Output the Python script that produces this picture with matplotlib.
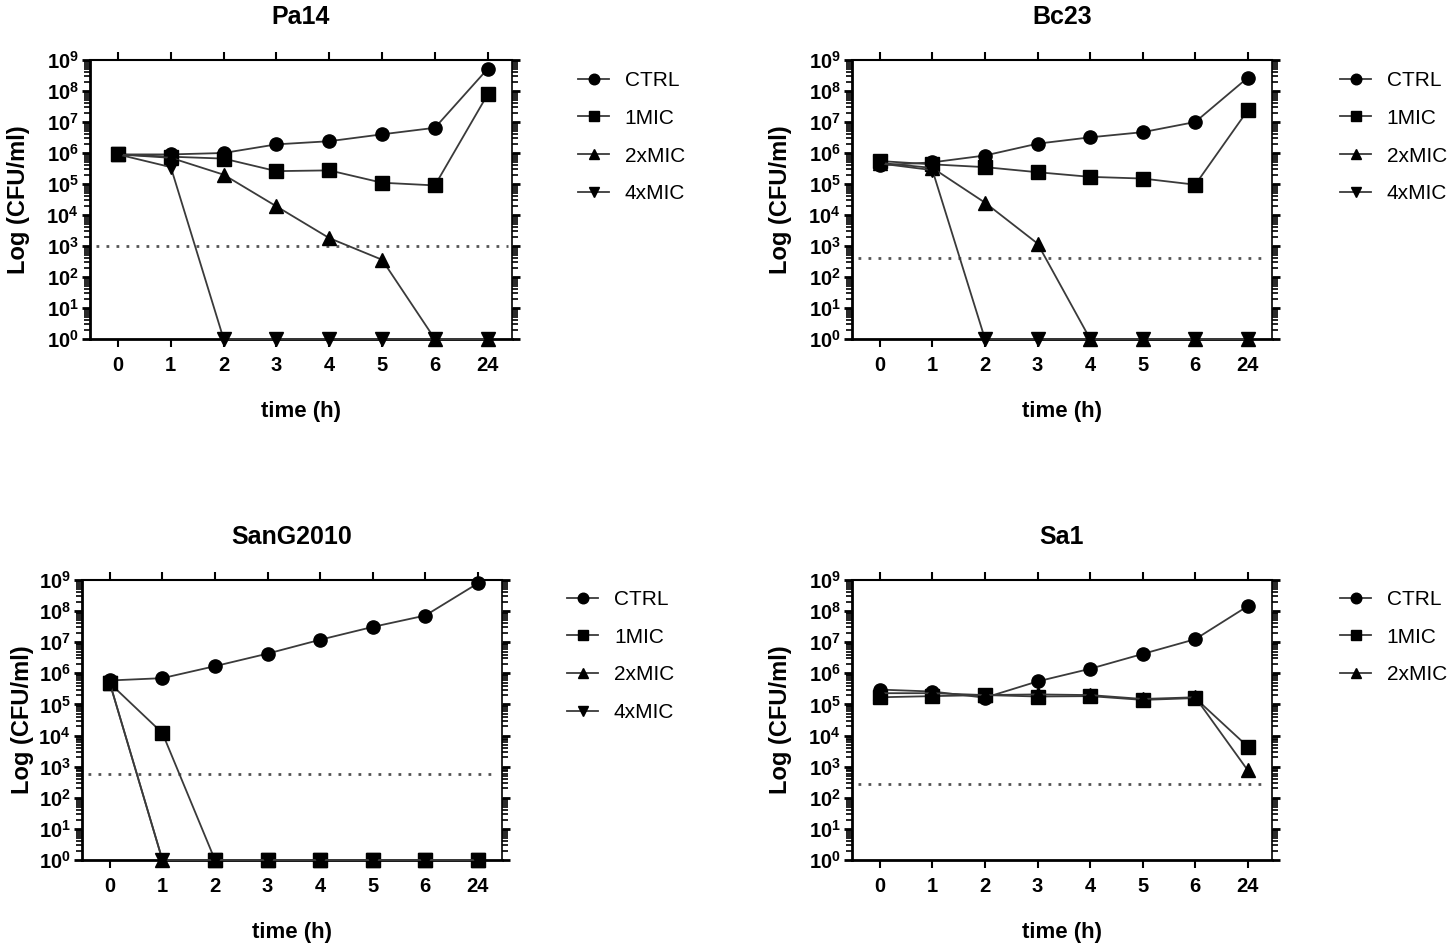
import math
import matplotlib
matplotlib.use("Agg")
import matplotlib.pyplot as plt
from matplotlib.ticker import FixedLocator, FuncFormatter, LogLocator, NullFormatter

plt.rcParams['font.family'] = ['Liberation Sans', 'DejaVu Sans']
plt.rcParams['mathtext.fontset'] = 'custom'
plt.rcParams['mathtext.rm'] = 'Liberation Sans:bold'
plt.rcParams['mathtext.bf'] = 'Liberation Sans:bold'

# time points (h), shown as evenly spaced categories
times = ['0', '1', '2', '3', '4', '5', '6', '24']

# CFU/ml
pa14_ctrl = [9e5, 9e5, 1e6, 1.9e6, 2.4e6, 4e6, 6.5e6, 5.2e8]
pa14_1mic = [9e5, 7.6e5, 6.6e5, 2.6e5, 2.75e5, 1.1e5, 9e4, 7.8e7]
pa14_2mic = [9e5, 7e5, 2e5, 1.9e4, 1.8e3, 3.6e2, 1, 1]
pa14_4mic = [9e5, 3.5e5, 1, 1, 1, 1, 1, 1]
pa14_lod = 1e3

bc23_ctrl = [4e5, 5e5, 8.3e5, 2e6, 3.2e6, 4.7e6, 1e7, 2.7e8]
bc23_1mic = [5.5e5, 4.3e5, 3.5e5, 2.4e5, 1.7e5, 1.5e5, 9.5e4, 2.4e7]
bc23_2mic = [4.8e5, 3.3e5, 2.5e4, 1.2e3, 1, 1, 1, 1]
bc23_4mic = [4.6e5, 2.8e5, 1, 1, 1, 1, 1, 1]
bc23_lod = 415

sang_ctrl = [5.9e5, 7e5, 1.7e6, 4.3e6, 1.2e7, 3.1e7, 7.2e7, 7.8e8]
sang_1mic = [4.8e5, 1.2e4, 1, 1, 1, 1, 1, 1]
sang_2mic = [4.8e5, 1, 1, 1, 1, 1, 1, 1]
sang_4mic = [4.8e5, 1, 1, 1, 1, 1, 1, 1]
sang_lod = 600

sa1_ctrl = [3e5, 2.6e5, 1.65e5, 5.5e5, 1.4e6, 4.2e6, 1.25e7, 1.45e8]
sa1_1mic = [1.7e5, 1.85e5, 2e5, 1.8e5, 1.85e5, 1.4e5, 1.6e5, 4.4e3]
sa1_2mic = [2.3e5, 2.3e5, 2e5, 2.1e5, 2e5, 1.5e5, 1.7e5, 7.6e2]
sa1_lod = 270

labels = ['CTRL', '1MIC', '2xMIC', '4xMIC']
markers = ['o', 's', '^', 'v']

panels = [
    ('Pa14', [pa14_ctrl, pa14_1mic, pa14_2mic, pa14_4mic], pa14_lod),
    ('Bc23', [bc23_ctrl, bc23_1mic, bc23_2mic, bc23_4mic], bc23_lod),
    ('SanG2010', [sang_ctrl, sang_1mic, sang_2mic, sang_4mic], sang_lod),
    ('Sa1', [sa1_ctrl, sa1_1mic, sa1_2mic], sa1_lod),
]

W, H = 1453, 949
# axes boxes in pixels: left, top, right, bottom
boxes = [(90, 60, 512, 339), (852, 60, 1272, 339),
         (82, 580, 502, 860), (852, 580, 1272, 860)]
legend_pos = [(578, 71), (1340, 71), (567, 590), (1340, 590)]
ylabel_pads = [12, 12, 3, 12]

fig = plt.figure(figsize=(W / 100, H / 100), dpi=100)
x = list(range(len(times)))

for (title, series, lod), (l, t, r, b), (lx, ly), ypad in zip(panels, boxes, legend_pos, ylabel_pads):
    ax = fig.add_axes([l / W, 1 - b / H, (r - l) / W, (b - t) / H])
    ax.set_yscale('log')
    for vals, lab, mk in zip(series, labels, markers):
        ax.plot(x, vals, color='#3a3a3a', lw=1.3, marker=mk, ms=9.5,
                mfc='black', mec='black', label=lab, clip_on=False, zorder=3)
    ax.hlines(lod, -0.42, 7.38, colors='#555555', linestyles=(0, (1, 2.6)), lw=2)

    ax.set_xlim(-0.53, 7.46)
    ax.set_ylim(1, 1e9)
    ax.set_xticks(x)
    ax.set_xticklabels(times, fontweight='bold', fontsize=14.5)
    ax.yaxis.set_major_locator(FixedLocator([10.0 ** k for k in range(10)]))
    ax.yaxis.set_major_formatter(FuncFormatter(lambda v, p: r'$10^{%d}$' % round(math.log10(v))))
    ax.yaxis.set_minor_locator(LogLocator(base=10, subs=range(2, 10), numticks=20))
    ax.yaxis.set_minor_formatter(NullFormatter())
    ax.tick_params(axis='y', labelsize=14.5)

    ax.tick_params(axis='x', which='major', direction='out', top=True, bottom=True,
                   length=6, width=1.5, pad=6)
    ax.tick_params(axis='y', which='major', direction='out', left=True, right=True,
                   length=6, width=2, pad=2)
    ax.tick_params(axis='y', which='minor', direction='out', left=True, right=True,
                   length=4, width=1.2)
    for side, w in [('left', 2), ('bottom', 2), ('top', 1.5), ('right', 1.2)]:
        ax.spines[side].set_linewidth(w)

    ax.set_title(title, fontweight='bold', fontsize=18, pad=26)
    ax.set_xlabel('time (h)', fontweight='bold', fontsize=16, labelpad=19)
    ax.set_ylabel('Log (CFU/ml)', fontweight='bold', fontsize=17, labelpad=ypad)

    ax.legend(loc='upper left', bbox_to_anchor=(lx / W, 1 - ly / H),
              bbox_transform=fig.transFigure, frameon=False, fontsize=15,
              markerscale=0.8, handlelength=1.5, handletextpad=0.75,
              labelspacing=0.9, borderpad=0, borderaxespad=0)

fig.savefig('out.png', dpi=100)
